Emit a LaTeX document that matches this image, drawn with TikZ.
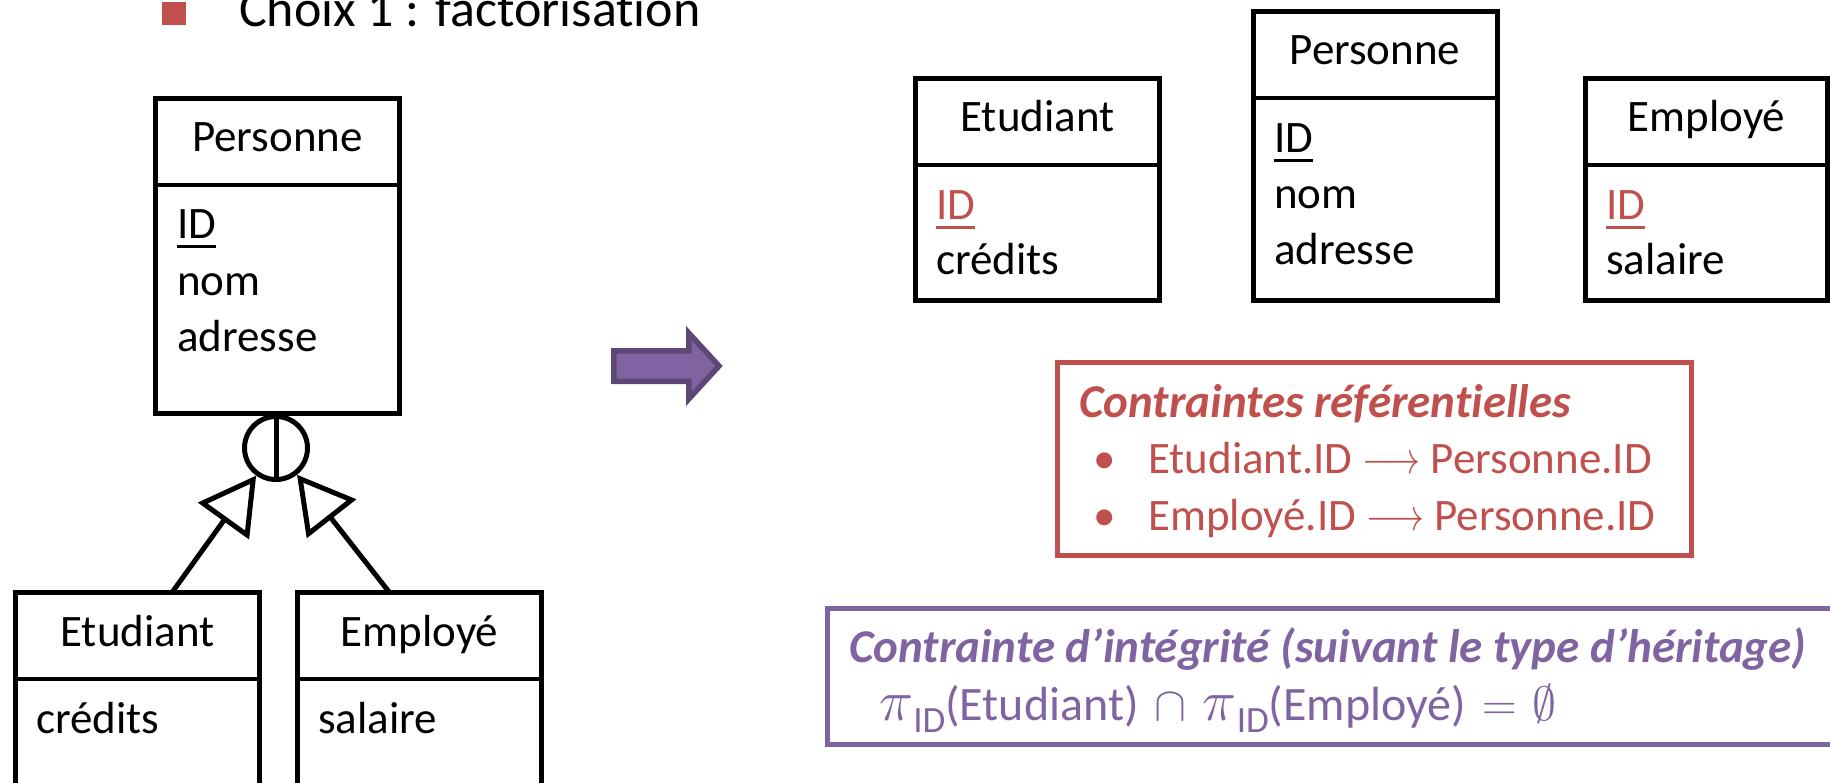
\RequirePackage{fix-cm}
\documentclass[tikz,border=0pt]{standalone}
\usepackage{fontspec}
\setmainfont{Carlito}[Ligatures=NoCommon]
\usetikzlibrary{arrows.meta}
\definecolor{ored}{HTML}{C0504D}
\definecolor{opurple}{HTML}{8064A2}
\definecolor{opurpledark}{HTML}{5D4777}
\newcommand{\fkarrow}{\scalebox{0.8}[1]{$\longrightarrow$}}
\newcommand{\projid}{\scalebox{1.2}{$\pi$}\raisebox{-12pt}{\fontsize{37}{37}\selectfont ID}}

\begin{document}
\begin{tikzpicture}[x=1pt,y=-1pt,
  classbox/.style={draw=black, line width=5pt, inner sep=0pt, outer sep=0pt, minimum width=244pt},
  divider/.style={line width=3.3pt},
  attr/.style={inner sep=0pt, anchor=base west, font=\fontsize{45}{56}\selectfont},
  clsname/.style={inner sep=0pt, anchor=base, font=\fontsize{45}{56}\selectfont},
  keyline/.style={line width=3pt},
  inherit/.style={line width=5pt, -{Triangle[open, length=56pt, width=62pt]}},
  notebox/.style={line width=5pt, inner sep=0pt, outer sep=0pt},
  heading/.style={inner sep=0pt, anchor=base west, font=\fontsize{47}{56}\selectfont\bfseries\itshape},
]
\useasboundingbox (0,0) rectangle (1830,783);
\clip (0,0) rectangle (1830,783);

% slide bullet
\node[fill=ored, minimum size=23.5pt, inner sep=0pt] (choix-mark) at (174,13.5) {};
\node[attr, font=\fontsize{52}{60}\selectfont] (choix) at (239,27) {Choix 1 : factorisation};

% ---- EER schema: Personne specialised into Etudiant / Employé ----
\node[classbox, minimum height=315pt] (persL) at (277.5,256) {};
\draw[divider] ([yshift=-86.5pt]persL.north west) -- ([yshift=-86.5pt]persL.north east);
\node[clsname] (persL-name) at ([yshift=-53.5pt]persL.north) {Personne};
\node[attr] (persL-id) at (177,239) {ID};
\draw[keyline] ([yshift=-7.5pt]persL-id.base west) -- ([yshift=-7.5pt]persL-id.base east);
\node[attr] (persL-nom) at (177,296) {nom};
\node[attr] (persL-adr) at (177,352) {adresse};

\node[classbox, minimum height=257.5pt] (etudL) at (137.5,721.25) {};
\draw[divider] ([yshift=-86.5pt]etudL.north west) -- ([yshift=-86.5pt]etudL.north east);
\node[clsname] (etudL-name) at ([yshift=-53.5pt]etudL.north) {Etudiant};
\node[attr] (etudL-cr) at (36,733) {crédits};

\node[classbox, minimum height=257.5pt] (empL) at (419.5,721.25) {};
\draw[divider] ([yshift=-86.5pt]empL.north west) -- ([yshift=-86.5pt]empL.north east);
\node[clsname] (empL-name) at ([yshift=-53.5pt]empL.north) {Employé};
\node[attr] (empL-sal) at (318,733) {salaire};

% disjoint specialisation circle
\node[circle, draw, line width=5pt, minimum size=63pt, inner sep=0pt] (circ) at (276,448) {};
\draw[line width=5pt] (circ.north) -- (circ.south);

\coordinate (etudL-in) at ([xshift=34.5pt]etudL.north);
\coordinate (empL-in) at ([xshift=-30pt]empL.north);
\draw[inherit] (etudL-in) -- (circ);
\draw[inherit] (empL-in) -- (circ);

% transformation arrow
\filldraw[fill=opurple, draw=opurpledark, line width=5.5pt, line join=miter]
  (613.75,350.75) -- (688.75,350.75) -- (688.75,333) -- (719,366) -- (688.75,399) -- (688.75,381.25) -- (613.75,381.25) -- cycle;

% ---- relational schema ----
\node[classbox, minimum height=222pt] (etudR) at (1037.5,189.5) {};
\draw[divider] ([yshift=-86.5pt]etudR.north west) -- ([yshift=-86.5pt]etudR.north east);
\node[clsname] (etudR-name) at ([yshift=-53.5pt]etudR.north) {Etudiant};
\node[attr, text=ored] (etudR-id) at (936,220) {ID};
\draw[keyline, ored] ([yshift=-7.5pt]etudR-id.base west) -- ([yshift=-7.5pt]etudR-id.base east);
\node[attr] (etudR-cr) at (936,275) {crédits};

\node[classbox, minimum height=289pt] (persR) at (1375,156) {};
\draw[divider] ([yshift=-86.5pt]persR.north west) -- ([yshift=-86.5pt]persR.north east);
\node[clsname] (persR-name) at ([yshift=-53.5pt]persR.north) {Personne};
\node[attr] (persR-id) at (1274,153) {ID};
\draw[keyline] ([yshift=-7.5pt]persR-id.base west) -- ([yshift=-7.5pt]persR-id.base east);
\node[attr] (persR-nom) at (1274,209) {nom};
\node[attr] (persR-adr) at (1274,265) {adresse};

\node[classbox, minimum width=242pt, minimum height=222pt] (empR) at (1706.5,189.5) {};
\draw[divider] ([yshift=-86.5pt]empR.north west) -- ([yshift=-86.5pt]empR.north east);
\node[clsname] (empR-name) at ([yshift=-53.5pt]empR.north) {Employé};
\node[attr, text=ored] (empR-id) at (1606,220) {ID};
\draw[keyline, ored] ([yshift=-7.5pt]empR-id.base west) -- ([yshift=-7.5pt]empR-id.base east);
\node[attr] (empR-sal) at (1606,275) {salaire};

% referential constraints
\node[notebox, draw=ored, minimum width=634pt, minimum height=193pt] (refbox) at (1374.5,459) {};
\node[heading, text=ored] (ref-title) at (1079,417) {Contraintes référentielles};
\node[clsname, text=ored] (ref-b1) at (1105,473) {•};
\node[attr, text=ored] (ref-1) at (1148,473) {Etudiant.ID \fkarrow{} Personne.ID};
\node[clsname, text=ored] (ref-b2) at (1105,530) {•};
\node[attr, text=ored] (ref-2) at (1148,530) {Employé.ID \fkarrow{} Personne.ID};

% integrity constraint
\node[notebox, draw=opurple, minimum width=1010pt, minimum height=136pt] (intbox) at (1332.5,676.6) {};
\node[heading, text=opurple] (int-title) at (849,662) {Contrainte d’intégrité (suivant le type d’héritage)};
\node[attr, text=opurple, font=\fontsize{48}{56}\selectfont] (int-formula) at (879,720)
  {\projid(Etudiant)\,\,$\cap$\,\,\projid(Employé)\,\,$=$\,\,$\emptyset$};
\end{tikzpicture}
\end{document}
